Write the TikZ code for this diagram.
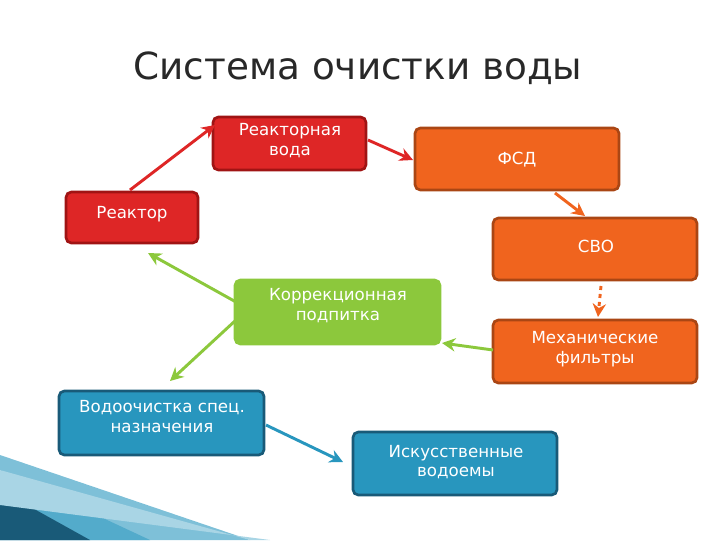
\documentclass[tikz,border=0pt]{standalone}
\usepackage{fontspec}
\setmainfont{DejaVu Sans}
\usetikzlibrary{arrows.meta}
\definecolor{rfill}{RGB}{222,38,38}\definecolor{rdraw}{RGB}{160,20,20}
\definecolor{ofill}{RGB}{240,100,30}\definecolor{odraw}{RGB}{170,70,20}
\definecolor{gfill}{RGB}{140,200,60}\definecolor{gline}{RGB}{140,200,60}
\definecolor{bfill}{RGB}{40,150,190}\definecolor{bdraw}{RGB}{25,90,120}
\definecolor{ttl}{RGB}{40,40,40}
\tikzset{box/.style={rounded corners=4pt,line width=2pt},
 lbl/.style={text=white,font=\fontsize{12.5}{14.5}\selectfont,align=center},
 arr/.style={line width=2.2pt,-{Stealth[length=10pt,width=10pt]}}}
\begin{document}
\begin{tikzpicture}[x=0.75pt,y=-0.75pt]
\useasboundingbox (0,0) rectangle (720,540);
% decoration
\fill[bfill!60!white] (0,455) -- (250,540) -- (0,540) -- cycle;
\fill[bfill!80!white] (0,470) -- (150,540) -- (0,540) -- cycle;
\fill[bdraw] (0,490) -- (90,540) -- (0,540) -- cycle;
\fill[bfill!40!white] (0,505) -- (270,540) -- (250,540) -- (0,470) -- cycle;
% title
\node[text=ttl,font=\fontsize{28}{32}\selectfont] (t) at (358,68) {Система очистки воды};
% boxes
\draw[box,fill=rfill,draw=rdraw] (213,117) rectangle (366,170);
\node[lbl,anchor=north] (rv) at (290,119) {Реакторная\\вода};
\draw[box,fill=ofill,draw=odraw] (415,128) rectangle (619,190);
\node[lbl] (fsd) at (517,160) {ФСД};
\draw[box,fill=rfill,draw=rdraw] (66,192) rectangle (198,243);
\node[lbl] (r) at (132,214) {Реактор};
\draw[box,fill=ofill,draw=odraw] (493,218) rectangle (697,280);
\node[lbl] (svo) at (596,246) {СВО};
\draw[box,fill=gfill,draw=gfill] (235,280) rectangle (440,344);
\node[lbl,anchor=north] (k) at (338,284) {Коррекционная\\подпитка};
\draw[box,fill=ofill,draw=odraw] (493,320) rectangle (697,383);
\node[lbl] (m) at (595,349) {Механические\\фильтры};
\draw[box,fill=bfill,draw=bdraw] (59,391) rectangle (264,455);
\node[lbl,anchor=north] (w) at (162,396) {Водоочистка спец.\\назначения};
\draw[box,fill=bfill,draw=bdraw] (353,432) rectangle (557,495);
\node[lbl] (i) at (456,462) {Искусственные\\водоемы};
% connectors
\coordinate (a1) at (130,190); \coordinate (a2) at (215,125);
\draw[arr,rfill] (a1) -- (a2);
\coordinate (b1) at (368,140); \coordinate (b2) at (413,160);
\draw[arr,rfill] (b1) -- (b2);
\coordinate (c1) at (555,193); \coordinate (c2) at (585,216);
\draw[arr,ofill] (c1) -- (c2);
\coordinate (d1) at (601,286); \coordinate (d2) at (598,317);
\draw[arr,ofill,dashed] (d1) -- (d2);
\coordinate (e1) at (493,350); \coordinate (e2) at (442,343);
\draw[arr,gline] (e1) -- (e2);
\coordinate (f1) at (236,302); \coordinate (f2) at (148,253);
\draw[arr,gline] (f1) -- (f2);
\coordinate (g1) at (236,320); \coordinate (g2) at (170,381);
\draw[arr,gline] (g1) -- (g2);
\coordinate (h1) at (266,425); \coordinate (h2) at (343,462);
\draw[arr,bfill] (h1) -- (h2);
\end{tikzpicture}
\end{document}
